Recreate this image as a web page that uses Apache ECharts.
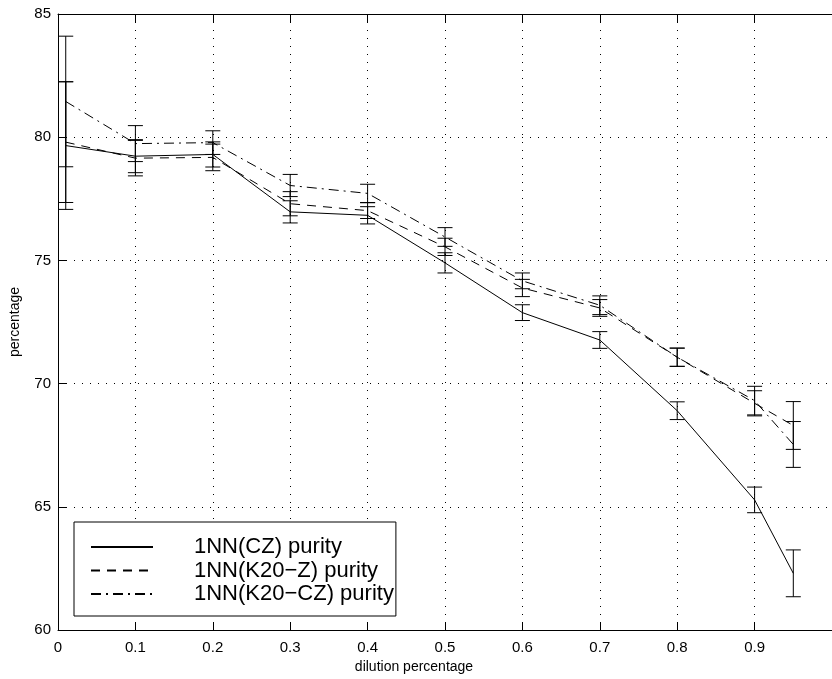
<!DOCTYPE html>
<html><head><meta charset="utf-8">
<script src="https://cdn.jsdelivr.net/npm/echarts@6/dist/echarts.min.js"></script>
<style>html,body{margin:0;padding:0;background:#fff}#c{width:832px;height:679px}</style>
</head><body><div id="c"></div>
<script>
// dilution percentage (x) values
const xValues = [0.01, 0.1, 0.2, 0.3, 0.4, 0.5, 0.6, 0.7, 0.8, 0.9, 0.95];
// 1NN(CZ) purity
const czMean = [79.66, 79.23, 79.30, 76.97, 76.83, 74.90, 72.88, 71.77, 68.90, 65.28, 62.30];
const czErr  = [2.59, 0.67, 0.51, 0.45, 0.35, 0.41, 0.32, 0.34, 0.36, 0.52, 0.95];
// 1NN(K20-Z) purity
const k20zMean = [79.80, 79.15, 79.18, 77.30, 77.02, 75.55, 73.88, 73.07, 71.07, 69.20, 68.30];
const k20zErr  = [2.45, 0.72, 0.54, 0.49, 0.32, 0.35, 0.35, 0.34, 0.37, 0.51, 0.97];
// 1NN(K20-CZ) purity
const k20czMean = [81.45, 79.74, 79.78, 78.04, 77.72, 75.95, 74.17, 73.18, 71.07, 69.31, 67.53];
const k20czErr  = [2.65, 0.73, 0.48, 0.45, 0.37, 0.38, 0.32, 0.38, 0.37, 0.58, 0.93];

const seriesNames = ['1NN(CZ) purity', '1NN(K20\u2212Z) purity', '1NN(K20\u2212CZ) purity'];
const xTickLabels = ['0','0.1','0.2','0.3','0.4','0.5','0.6','0.7','0.8','0.9'];
const yTicks = [60, 65, 70, 75, 80, 85];

const FONT = '"Liberation Sans", Arial, Helvetica, sans-serif';
const chart = echarts.init(document.getElementById('c'), null, {renderer: 'canvas'});

function pairs(xs, ys) { return xs.map((x, i) => [x, ys[i]]); }
function errData(xs, ys, es) { return xs.map((x, i) => [x, ys[i], es[i]]); }

function errorRender(params, api) {
  const x = api.value(0), m = api.value(1), e = api.value(2);
  const top = api.coord([x, m + e]);
  const bot = api.coord([x, m - e]);
  const hw = 7.5;
  const style = {stroke: '#000', lineWidth: 1, fill: null};
  return {
    type: 'group',
    children: [
      {type: 'line', shape: {x1: top[0], y1: top[1], x2: bot[0], y2: bot[1]}, style: style},
      {type: 'line', shape: {x1: top[0] - hw, y1: top[1], x2: top[0] + hw, y2: top[1]}, style: style},
      {type: 'line', shape: {x1: bot[0] - hw, y1: bot[1], x2: bot[0] + hw, y2: bot[1]}, style: style}
    ]
  };
}

const lineTypes = ['solid', [9, 7], [10, 5, 2, 5]];
const means = [czMean, k20zMean, k20czMean];
const errs = [czErr, k20zErr, k20czErr];

const series = [];
for (let i = 0; i < 3; i++) {
  series.push({
    name: seriesNames[i], type: 'line', data: pairs(xValues, means[i]),
    symbol: 'none', animation: false, z: 3,
    lineStyle: {color: '#000', width: 1, type: lineTypes[i]},
    itemStyle: {color: '#000'}
  });
}
for (let i = 0; i < 3; i++) {
  series.push({
    type: 'custom', renderItem: errorRender, data: errData(xValues, means[i], errs[i]),
    encode: {x: 0, y: [1]}, animation: false, z: 2, silent: true
  });
}

const axisLine = {show: true, lineStyle: {color: '#000', width: 1}};
const option = {
  backgroundColor: '#fff',
  animation: false,
  grid: {left: 55, top: 14, width: 780, height: 616, containLabel: false},
  legend: {
    data: seriesNames,
    orient: 'vertical', left: 74, top: 522,
    padding: [14, 2, 11, 16], itemWidth: 62, itemHeight: 14, itemGap: 1.5,
    borderColor: '#000', borderWidth: 1, backgroundColor: '#fff',
    itemStyle: {opacity: 0},
    textStyle: {fontSize: 22, lineHeight: 22, fontFamily: FONT, color: '#000', padding: [0, 0, 0, 36]}
  },
  xAxis: [{
    type: 'value', min: 0, max: 1, interval: 0.1, position: 'bottom',
    name: 'dilution percentage', nameLocation: 'middle', nameGap: 26,
    nameTextStyle: {fontSize: 14, fontFamily: FONT, color: '#000', padding: [0, 62, 0, 0]},
    axisLine: axisLine,
    axisTick: {show: true, inside: true, length: 8, lineStyle: {color: '#000'}},
    axisLabel: {fontSize: 15, fontFamily: FONT, color: '#000', margin: 10, showMaxLabel: false,
      formatter: v => { const k = Math.round(v * 10); return k < xTickLabels.length ? xTickLabels[k] : ''; }},
    splitLine: {show: true, lineStyle: {color: '#000', width: 1, type: [1, 7]}}
  }, {
    type: 'value', min: 0, max: 1, interval: 0.1, position: 'top',
    axisLine: axisLine,
    axisTick: {show: true, inside: true, length: 8, lineStyle: {color: '#000'}},
    axisLabel: {show: false}, splitLine: {show: false}
  }],
  yAxis: [{
    type: 'value', min: yTicks[0], max: yTicks[yTicks.length - 1], interval: 5,
    name: 'percentage', nameLocation: 'middle', nameGap: 36,
    nameTextStyle: {fontSize: 14, fontFamily: FONT, color: '#000'},
    axisLine: axisLine,
    axisTick: {show: true, inside: true, length: 8, lineStyle: {color: '#000'}},
    axisLabel: {fontSize: 15, fontFamily: FONT, color: '#000', margin: 7},
    splitLine: {show: true, lineStyle: {color: '#000', width: 1, type: [1, 7]}}
  }],
  series: series
};
chart.setOption(option);
</script></body></html>
